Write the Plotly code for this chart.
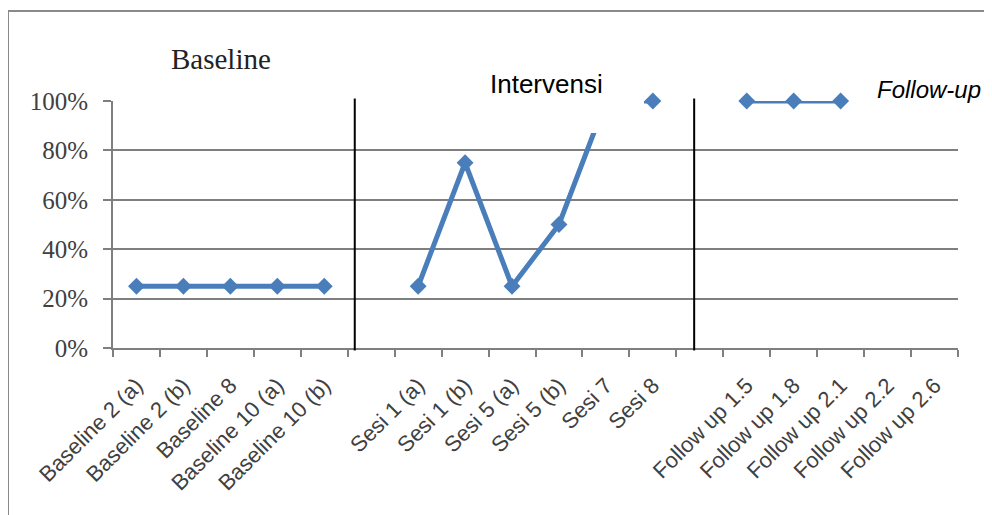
import plotly.graph_objects as go

categories = ["Baseline 2 (a)", "Baseline 2 (b)", "Baseline 8", "Baseline 10 (a)", "Baseline 10 (b)", " ",
              "Sesi 1 (a)", "Sesi 1 (b)", "Sesi 5 (a)", "Sesi 5 (b)", "Sesi 7", "Sesi 8", "  ",
              "Follow up 1.5", "Follow up 1.8", "Follow up 2.1", "Follow up 2.2", "Follow up 2.6"]
values = [0.25, 0.25, 0.25, 0.25, 0.25, None,
          0.25, 0.75, 0.25, 0.50, 1.00, 1.00, None,
          1.00, 1.00, 1.00, None, None]
y_ticks = [0, 0.2, 0.4, 0.6, 0.8, 1.0]
y_tick_labels = ["0%", "20%", "40%", "60%", "80%", "100%"]
phase_lines = [4.65, 11.88]

OFF = 8  # default page body margin
W, H = 992 - OFF, 515 - OFF
# plot area in window pixels: x 113..958, y 101..348
L, T = 113 - OFF, 101 - OFF
R = W - (958 - OFF)
B = H - (348 - OFF)
pw, ph = W - L - R, H - T - B

def px_x(p):
    return (p - OFF - L) / pw

def px_y(p):
    return (H - B - (p - OFF)) / ph

fig = go.Figure()
fig.add_trace(go.Scatter(
    x=categories, y=values, mode="lines+markers", connectgaps=False,
    line=dict(color="#4A7EBB", width=5),
    marker=dict(symbol="diamond", size=13, color="#4A7EBB"),
    showlegend=False, cliponaxis=False,
))

shapes = []
for xl in phase_lines:
    shapes.append(dict(type="line", xref="x", yref="paper", x0=xl, x1=xl, y0=-0.01, y1=1.01,
                       line=dict(color="black", width=2), layer="above"))
# white label boxes
shapes.append(dict(type="rect", xref="paper", yref="paper", x0=px_x(467), x1=px_x(644),
                   y0=px_y(133), y1=px_y(60), fillcolor="white", line=dict(width=0), layer="above"))
shapes.append(dict(type="rect", xref="paper", yref="paper", x0=px_x(853), x1=px_x(1000),
                   y0=px_y(140), y1=px_y(58), fillcolor="white", line=dict(width=0), layer="above"))
# outer border
shapes.append(dict(type="rect", xref="paper", yref="paper", x0=px_x(8), x1=px_x(988),
                   y0=px_y(540), y1=px_y(11), line=dict(color="#8a8a8a", width=2), layer="below"))

annotations = [
    dict(text="Baseline", xref="paper", yref="paper", x=px_x(221), y=px_y(59), showarrow=False,
         font=dict(family="Liberation Serif", size=29, color="#222222"), xanchor="center", yanchor="middle"),
    dict(text="Intervensi", xref="paper", yref="paper", x=px_x(546), y=px_y(84), showarrow=False,
         font=dict(family="Liberation Sans", size=26, color="black"), xanchor="center", yanchor="middle"),
    dict(text="<i>Follow-up</i>", xref="paper", yref="paper", x=px_x(929), y=px_y(90), showarrow=False,
         font=dict(family="Liberation Sans", size=24, color="black"), xanchor="center", yanchor="middle"),
]

fig.update_layout(
    width=W, height=H, margin=dict(l=L, r=R, t=T, b=B, autoexpand=False),
    paper_bgcolor="white", plot_bgcolor="white",
    shapes=shapes, annotations=annotations,
    xaxis=dict(type="category", categoryorder="array", categoryarray=categories,
               range=[-0.5, len(categories) - 0.5], tickangle=-45,
               ticks="outside", tickson="boundaries", ticklen=7, tickcolor="#7f7f7f", tickwidth=2,
               showline=True, linecolor="#7f7f7f", linewidth=2, showgrid=False,
               ticklabelstandoff=14,
               tickfont=dict(family="Liberation Sans", size=22, color="#404040")),
    yaxis=dict(range=[0, 1], tickvals=y_ticks, ticktext=y_tick_labels,
               ticks="outside", ticklen=8, tickcolor="#7f7f7f", tickwidth=2,
               showline=True, linecolor="#7f7f7f", linewidth=2,
               showgrid=True, gridcolor="#7f7f7f", gridwidth=2, zeroline=False,
               ticklabelstandoff=10,
               tickfont=dict(family="Liberation Serif", size=25, color="#404040")),
)

fig.write_html("out.html")
